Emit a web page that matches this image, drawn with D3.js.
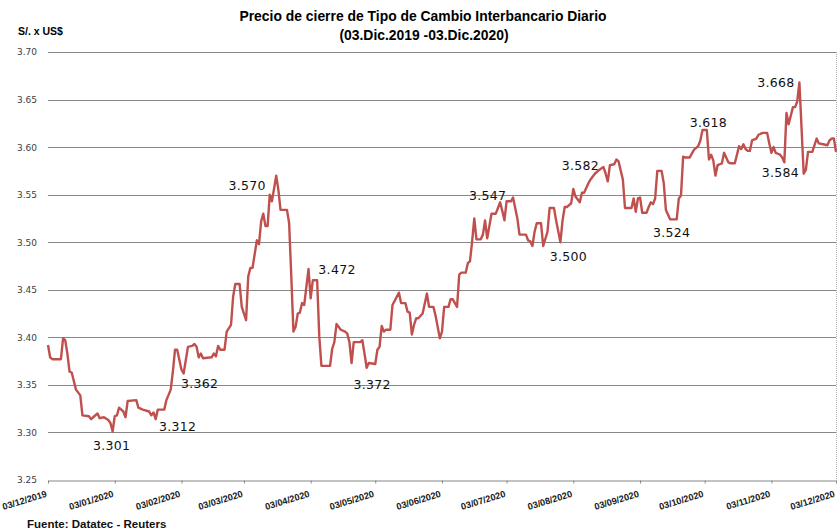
<!DOCTYPE html>
<html>
<head>
<meta charset="utf-8">
<script src="https://cdn.jsdelivr.net/npm/d3@7"></script>
<style>
  html, body { margin: 0; padding: 0; background: #fff; }
  svg { display: block; }
</style>
</head>
<body>
<svg id="chart" width="837" height="529"></svg>
<script>
// ---------------- DATA ----------------
const dates = [
  "2019-12-03","2019-12-04","2019-12-05","2019-12-09","2019-12-10","2019-12-11","2019-12-12","2019-12-13","2019-12-14","2019-12-16","2019-12-18","2019-12-19","2019-12-22","2019-12-23","2019-12-24","2019-12-26","2019-12-27","2019-12-29","2019-12-31",
  "2020-01-01","2020-01-02","2020-01-03","2020-01-04","2020-01-05","2020-01-07","2020-01-08","2020-01-09","2020-01-13","2020-01-14","2020-01-16","2020-01-19","2020-01-20","2020-01-21","2020-01-22","2020-01-23","2020-01-26","2020-01-27","2020-01-29","2020-01-30","2020-01-31",
  "2020-02-01","2020-02-03","2020-02-04","2020-02-06","2020-02-08","2020-02-09","2020-02-10","2020-02-11","2020-02-12","2020-02-13","2020-02-17","2020-02-18","2020-02-19","2020-02-20","2020-02-21","2020-02-23","2020-02-24","2020-02-26","2020-02-27","2020-02-28",
  "2020-03-01","2020-03-02","2020-03-04","2020-03-05","2020-03-06","2020-03-07","2020-03-09","2020-03-10","2020-03-11","2020-03-12","2020-03-13","2020-03-14","2020-03-15","2020-03-16","2020-03-18","2020-03-19","2020-03-20","2020-03-23","2020-03-24","2020-03-25","2020-03-26","2020-03-27","2020-03-28","2020-03-29","2020-03-30","2020-03-31",
  "2020-04-01","2020-04-02","2020-04-03","2020-04-04","2020-04-06","2020-04-07","2020-04-08","2020-04-12","2020-04-13","2020-04-14","2020-04-15","2020-04-17","2020-04-19","2020-04-20","2020-04-21","2020-04-22","2020-04-23","2020-04-26","2020-04-27","2020-04-28","2020-04-29","2020-04-30",
  "2020-05-03","2020-05-04","2020-05-05","2020-05-06","2020-05-07","2020-05-08","2020-05-10","2020-05-11","2020-05-14","2020-05-15","2020-05-17","2020-05-18","2020-05-19","2020-05-20","2020-05-21","2020-05-22","2020-05-23","2020-05-25","2020-05-27","2020-05-28","2020-05-30","2020-05-31",
  "2020-06-02","2020-06-03","2020-06-04","2020-06-06","2020-06-07","2020-06-08","2020-06-10","2020-06-11","2020-06-12","2020-06-14","2020-06-15","2020-06-16","2020-06-17","2020-06-18","2020-06-19","2020-06-21","2020-06-22","2020-06-23","2020-06-24","2020-06-26","2020-06-28","2020-06-30",
  "2020-07-01","2020-07-02","2020-07-03","2020-07-05","2020-07-06","2020-07-08","2020-07-09","2020-07-12","2020-07-13","2020-07-14","2020-07-15","2020-07-16","2020-07-17","2020-07-19","2020-07-20","2020-07-22","2020-07-23","2020-07-25","2020-07-26","2020-07-28","2020-07-29","2020-07-30","2020-07-31",
  "2020-08-02","2020-08-03","2020-08-04","2020-08-06","2020-08-07","2020-08-08","2020-08-10","2020-08-11","2020-08-13","2020-08-15","2020-08-17","2020-08-18","2020-08-19","2020-08-20","2020-08-22","2020-08-23","2020-08-24","2020-08-26","2020-08-27","2020-08-30","2020-08-31",
  "2020-09-01","2020-09-02","2020-09-03","2020-09-04","2020-09-06","2020-09-07","2020-09-08","2020-09-09","2020-09-10","2020-09-11","2020-09-13","2020-09-14","2020-09-15","2020-09-17","2020-09-20","2020-09-21","2020-09-22","2020-09-23","2020-09-24","2020-09-26","2020-09-28","2020-09-30",
  "2020-10-01","2020-10-02","2020-10-04","2020-10-05","2020-10-06","2020-10-07","2020-10-08","2020-10-09","2020-10-10","2020-10-11","2020-10-12","2020-10-14","2020-10-15","2020-10-17","2020-10-19","2020-10-20","2020-10-21","2020-10-22","2020-10-23","2020-10-24","2020-10-25","2020-10-27","2020-10-28","2020-10-30",
  "2020-11-01","2020-11-02","2020-11-03","2020-11-04","2020-11-05","2020-11-06","2020-11-07","2020-11-08","2020-11-09","2020-11-10","2020-11-11","2020-11-12","2020-11-13","2020-11-14","2020-11-15","2020-11-16","2020-11-18","2020-11-19","2020-11-20","2020-11-22","2020-11-24","2020-11-25","2020-11-27","2020-11-29","2020-11-30",
  "2020-12-01","2020-12-02","2020-12-03"
];
const values = [
  3.392,3.379,3.377,3.377,3.399,3.397,3.383,3.364,3.363,3.345,3.339,3.318,3.317,3.314,3.316,3.320,3.315,3.316,3.313,
  3.310,3.301,3.317,3.318,3.326,3.322,3.316,3.333,3.334,3.326,3.324,3.322,3.318,3.321,3.314,3.324,3.324,3.334,3.345,3.364,3.387,
  3.387,3.366,3.362,3.390,3.391,3.393,3.390,3.379,3.383,3.378,3.379,3.383,3.380,3.391,3.387,3.387,3.406,3.413,3.443,3.456,
  3.456,3.432,3.418,3.464,3.473,3.473,3.502,3.498,3.522,3.530,3.517,3.517,3.550,3.543,3.570,3.555,3.534,3.534,3.520,3.464,3.406,3.411,3.425,3.426,3.436,3.434,
  3.453,3.472,3.441,3.460,3.460,3.401,3.370,3.370,3.388,3.395,3.414,3.408,3.406,3.404,3.395,3.373,3.395,3.395,3.397,3.383,3.368,3.373,
  3.372,3.387,3.390,3.412,3.406,3.408,3.408,3.434,3.447,3.436,3.436,3.427,3.426,3.403,3.413,3.420,3.420,3.425,3.446,3.432,3.432,3.423,
  3.399,3.406,3.432,3.432,3.440,3.440,3.432,3.466,3.468,3.468,3.478,3.480,3.501,3.525,3.503,3.503,3.508,3.523,3.504,3.530,3.530,3.542,
  3.533,3.523,3.543,3.543,3.547,3.525,3.508,3.508,3.502,3.501,3.496,3.511,3.520,3.520,3.496,3.511,3.536,3.536,3.523,3.500,3.523,3.537,3.537,
  3.541,3.556,3.548,3.542,3.552,3.552,3.562,3.566,3.572,3.576,3.579,3.572,3.564,3.581,3.582,3.587,3.585,3.566,3.536,3.536,3.546,
  3.532,3.546,3.547,3.531,3.531,3.537,3.542,3.540,3.546,3.575,3.575,3.562,3.534,3.524,3.524,3.546,3.549,3.590,3.589,3.589,3.597,3.601,
  3.607,3.618,3.618,3.587,3.592,3.586,3.570,3.581,3.582,3.583,3.594,3.584,3.583,3.583,3.601,3.598,3.603,3.598,3.596,3.596,3.607,3.609,3.613,3.615,
  3.615,3.604,3.594,3.600,3.594,3.593,3.592,3.589,3.584,3.636,3.624,3.633,3.642,3.642,3.648,3.668,3.572,3.576,3.595,3.595,3.609,3.604,3.603,3.602,3.607,
  3.609,3.609,3.595
];
const xTickLabels = ["03/12/2019","03/01/2020","03/02/2020","03/03/2020","03/04/2020","03/05/2020","03/06/2020",
                     "03/07/2020","03/08/2020","03/09/2020","03/10/2020","03/11/2020","03/12/2020"];
const yTickValues = [3.25,3.30,3.35,3.40,3.45,3.50,3.55,3.60,3.65,3.70];
// annotated points: label text and the date it refers to
const annotTexts = ["3.301","3.312","3.362","3.570","3.472","3.372","3.547","3.500","3.582","3.524","3.618","3.584","3.668"];
const annotDates = ["2020-01-02","2020-01-22","2020-02-04","2020-03-18","2020-04-02","2020-04-29","2020-07-06","2020-07-28","2020-08-23","2020-09-20","2020-10-04","2020-11-09","2020-11-16"];

const titleLines = ["Precio de cierre de Tipo de Cambio Interbancario Diario", "(03.Dic.2019 -03.Dic.2020)"];
const unitLabel = "S/. x US$";
const sourceLabel = "Fuente: Datatec - Reuters";

// ---------------- LAYOUT ----------------
const parseISO = d3.timeParse("%Y-%m-%d");
const parseTick = d3.timeParse("%d/%m/%Y");
const fmtTick = d3.timeFormat("%d/%m/%Y");
const data = dates.map((d, i) => ({ date: parseISO(d), value: values[i] }));
const tickDates = xTickLabels.map(parseTick);

const L = 48, R = 836, T = 52, B = 480;
const x = d3.scaleTime().domain([tickDates[0], tickDates[tickDates.length - 1]]).range([L, R]);
const y = d3.scaleLinear().domain([3.25, 3.70]).range([B, T]);

const svg = d3.select("#chart");
const defs = svg.append("defs");
defs.append("filter").attr("id", "blur").attr("x", "-5%").attr("y", "-300%").attr("width", "110%").attr("height", "700%")
  .append("feGaussianBlur").attr("stdDeviation", 2.2);

// gridline glow
svg.append("g").selectAll("line").data(yTickValues).join("line")
  .attr("x1", L - 8).attr("x2", R).attr("y1", d => y(d) + 1).attr("y2", d => y(d) + 1)
  .attr("stroke", "#d3dbe8").attr("stroke-width", 5).attr("opacity", 0.55).attr("filter", "url(#blur)");

// gridlines
svg.append("g").selectAll("line").data(yTickValues.filter(v => v > 3.25)).join("line")
  .attr("x1", L).attr("x2", R).attr("y1", d => Math.round(y(d)) + 0.5).attr("y2", d => Math.round(y(d)) + 0.5)
  .attr("stroke", "#878787").attr("stroke-width", 1);

// right border dotted
svg.append("line").attr("x1", R + 0.5).attr("x2", R + 0.5).attr("y1", T).attr("y2", B)
  .attr("stroke", "#b0b0b0").attr("stroke-width", 1).attr("stroke-dasharray", "1,1");

// y axis labels
const yAxis = d3.axisLeft(y).tickValues(yTickValues).tickFormat(d3.format(".2f")).tickSize(0).tickPadding(11);
const gy = svg.append("g").attr("transform", `translate(${L},0)`).call(yAxis);
gy.select(".domain").remove();
gy.selectAll("text").attr("font-family", "DejaVu Sans, sans-serif").attr("font-size", 9).attr("fill", "#404040");

// x axis
const xAxis = d3.axisBottom(x).tickValues(tickDates).tickFormat(fmtTick).tickSize(3).tickSizeOuter(0);
const gx = svg.append("g").attr("transform", `translate(0,${Math.round(B) + 0.5})`).call(xAxis);
gx.select(".domain").attr("stroke", "#878787");
gx.selectAll(".tick line").attr("stroke", "#878787");
gx.selectAll("text")
  .attr("font-family", "Liberation Sans, Arial, sans-serif").attr("font-size", 9.2).attr("font-weight", "bold")
  .attr("fill", "#1a1a1a")
  .attr("text-anchor", "end")
  .attr("dy", null).attr("y", 0)
  .attr("transform", "translate(-1,16) rotate(-17)");

// line
const line = d3.line().x(d => x(d.date)).y(d => y(d.value));
svg.append("path").datum(data)
  .attr("fill", "none").attr("stroke", "#c0504d").attr("stroke-width", 2.4)
  .attr("stroke-linejoin", "round").attr("d", line);

// annotations
const annotOffsets = [[-1,18.5],[22,10],[16,14.5],[-29,14.4],[28.5,5],[5.5,25],[-25.5,2.5],[8,19],[-36,6],[-5,18],[1.5,-3],[-4,14.5],[-23.5,4.5]];
svg.append("g").selectAll("text").data(annotTexts).join("text")
  .attr("x", (t, i) => x(parseISO(annotDates[i])) + annotOffsets[i][0])
  .attr("y", (t, i) => y(+t) + annotOffsets[i][1])
  .attr("text-anchor", "middle")
  .attr("font-family", "DejaVu Sans, sans-serif").attr("font-size", 12.5)
  .attr("letter-spacing", 0.3)
  .attr("fill", "#111")
  .text(t => t);

// titles
svg.append("text").attr("x", 423).attr("y", 21).attr("text-anchor", "middle")
  .attr("font-family", "Liberation Sans, Arial, sans-serif").attr("font-weight", "bold").attr("font-size", 13.9)
  .attr("fill", "#000").text(titleLines[0]);
svg.append("text").attr("x", 424).attr("y", 40).attr("text-anchor", "middle")
  .attr("font-family", "Liberation Sans, Arial, sans-serif").attr("font-weight", "bold").attr("font-size", 13.9)
  .attr("fill", "#000").text(titleLines[1]);
svg.append("text").attr("x", 18).attr("y", 35)
  .attr("font-family", "Liberation Sans, Arial, sans-serif").attr("font-weight", "bold").attr("font-size", 10.5)
  .attr("fill", "#000").text(unitLabel);
svg.append("text").attr("x", 27).attr("y", 528)
  .attr("font-family", "Liberation Sans, Arial, sans-serif").attr("font-weight", "bold").attr("font-size", 11.5)
  .attr("fill", "#111").text(sourceLabel);
</script>
</body>
</html>
